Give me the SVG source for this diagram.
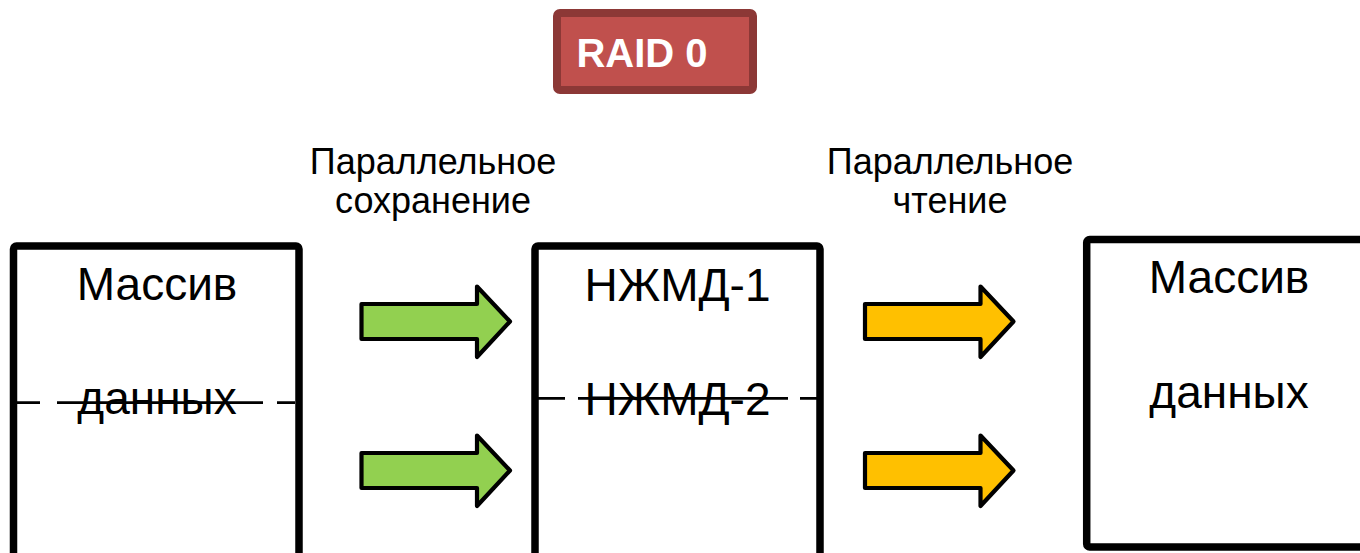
<svg xmlns="http://www.w3.org/2000/svg" width="1360" height="553" viewBox="0 0 1360 553">
<defs>
<style>
.box{fill:#fff;stroke:#000;stroke-width:7.5;stroke-linejoin:round}
.big{font-family:"Liberation Sans",Arial,sans-serif;font-size:46px;fill:#000;text-anchor:middle}
.lbl{font-family:"Liberation Sans",Arial,sans-serif;font-size:36px;fill:#000;text-anchor:middle}
.dash{fill:none;stroke:#000;stroke-width:2.8}
.arr{stroke:#000;stroke-width:4.2;stroke-linejoin:round}
.green{fill:#92D050}
.yellow{fill:#FFC000}
</style>
<path id="arrowShape" d="M0 0H115.5V-17.5L148.5 17.5L115.5 53V35H0Z"/>
</defs>
<rect width="1360" height="553" fill="#fff"/>
<g id="title">
<rect x="557" y="13" width="196" height="77" rx="3" fill="#C0504D" stroke="#8C3836" stroke-width="8"/>
<text x="642" y="67" font-family="'Liberation Sans',Arial,sans-serif" font-size="40" font-weight="bold" fill="#fff" text-anchor="middle">RAID 0</text>
</g>
<g id="label-save">
<text class="lbl" x="433" y="174">Параллельное</text>
<text class="lbl" x="433" y="213">сохранение</text>
</g>
<g id="label-read">
<text class="lbl" x="950" y="174">Параллельное</text>
<text class="lbl" x="950" y="213">чтение</text>
</g>
<g id="node-source">
<rect class="box" x="13.5" y="246" width="285.5" height="320" rx="3"/>
<text class="big" x="157" y="300">Массив</text>
<text class="big" x="157" y="414">данных</text>
<path class="dash" d="M17 402.7H40M57 402.7H263M277 402.7H295"/>
</g>
<g id="node-disks">
<rect class="box" x="535" y="246" width="285" height="320" rx="3"/>
<text class="big" x="677.5" y="301">НЖМД-1</text>
<text class="big" x="677.5" y="415">НЖМД-2</text>
<path class="dash" d="M538 398.3H565M578 398.3H788M800 398.3H817"/>
</g>
<g id="node-result">
<rect class="box" x="1086.7" y="239.5" width="290" height="307.5" rx="3"/>
<text class="big" x="1229" y="293">Массив</text>
<text class="big" x="1229" y="408">данных</text>
</g>
<g id="connectors">
<use href="#arrowShape" class="arr green" x="361.5" y="304"/>
<use href="#arrowShape" class="arr green" x="361.5" y="453"/>
<use href="#arrowShape" class="arr yellow" x="865" y="304"/>
<use href="#arrowShape" class="arr yellow" x="865" y="453"/>
</g>
</svg>
